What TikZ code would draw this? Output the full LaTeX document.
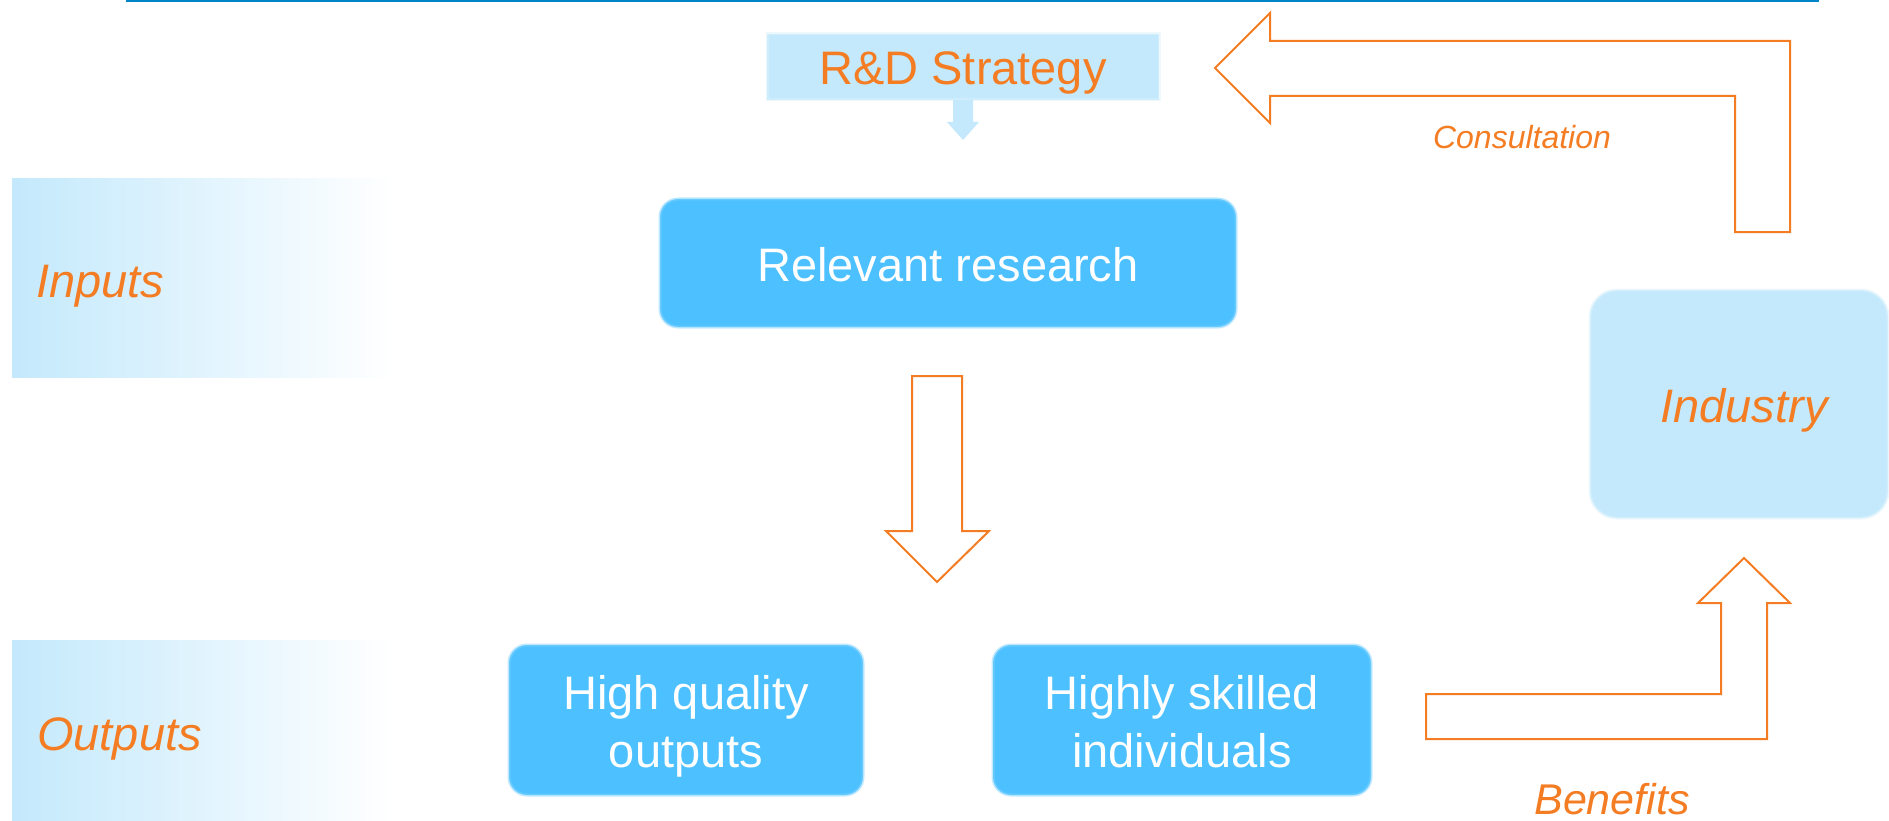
\documentclass[tikz,border=0pt]{standalone}
\usepackage{fontspec}
\setmainfont{Liberation Sans}
\definecolor{org}{RGB}{244,125,36}
\definecolor{bbox}{RGB}{77,193,255}
\definecolor{lblue}{RGB}{196,233,252}
\definecolor{topline}{RGB}{0,132,201}
\begin{document}
\begin{tikzpicture}[x=1pt,y=-1pt,
  bluebox/.style={rectangle, rounded corners=18pt, fill=bbox, draw=bbox!70, draw opacity=.5, line width=3pt, inner sep=0pt, text=white, align=center, font=\fontsize{47}{58}\selectfont},
  lightbox/.style={rectangle, fill=lblue, draw=lblue!60, draw opacity=.5, line width=3pt, inner sep=0pt},
  orgtext/.style={text=org, inner sep=0pt},
  blockarrow/.style={draw=org, fill=white, line width=2pt, line join=miter},
]
\useasboundingbox (0,0) rectangle (1889,821);
\fill[white] (0,0) rectangle (1889,821);

% top rule
\draw[topline, line width=2.5pt] (126,1.25) -- (1819,1.25);

% side panels
\shade[left color=lblue, right color=white] (12,179) rectangle (395,377);
\shade[left color=lblue, right color=white] (12,640) rectangle (395,821);
\node[orgtext, anchor=base west, font=\fontsize{47}{56}\selectfont\itshape] (inputs) at (36,297) {Inputs};
\node[orgtext, anchor=base west, font=\fontsize{47}{56}\selectfont\itshape] (outputs) at (37,750) {Outputs};

% R&D strategy
\node[lightbox, minimum width=392pt, minimum height=66pt] (rd) at (963,67) {};
\node[orgtext, anchor=base, font=\fontsize{47}{56}\selectfont] (rdt) at (963,85) {R\&D Strategy};
\fill[lblue] (953,100) -- (973,100) -- (973,122) -- (979,122) -- (963,140) -- (947,122) -- (953,122) -- cycle;

% blue boxes
\node[bluebox, minimum width=576pt, minimum height=128pt] (rr) at (948,263) {};
\node[text=white, inner sep=0pt, anchor=base, font=\fontsize{47}{56}\selectfont] (rrt) at (948,281) {Relevant research};

\node[bluebox, minimum width=354pt, minimum height=150pt] (hq) at (686,720) {};
\node[text=white, inner sep=0pt, anchor=base, font=\fontsize{47}{56}\selectfont] (hq1) at (686,709) {High quality};
\node[text=white, inner sep=0pt, anchor=base, font=\fontsize{47}{56}\selectfont] (hq2) at (686,767) {outputs};

\node[bluebox, minimum width=378pt, minimum height=150pt] (hs) at (1182,720) {};
\node[text=white, inner sep=0pt, anchor=base, font=\fontsize{47}{56}\selectfont] (hs1) at (1182,709) {Highly skilled};
\node[text=white, inner sep=0pt, anchor=base, font=\fontsize{47}{56}\selectfont] (hs2) at (1182,767) {individuals};

% industry
\node[lightbox, rounded corners=27pt, minimum width=298pt, minimum height=228pt] (ind) at (1739,404) {};
\node[orgtext, anchor=base, font=\fontsize{47}{56}\selectfont\itshape] (indt) at (1744,422) {Industry};

% block arrows
\draw[blockarrow] (912,376) -- (962,376) -- (962,531) -- (989,531) -- (937,582) -- (886,531) -- (912,531) -- cycle;
\draw[blockarrow] (1215,68) -- (1270,13) -- (1270,41) -- (1790,41) -- (1790,232) -- (1735,232) -- (1735,96) -- (1270,96) -- (1270,123) -- cycle;
\draw[blockarrow] (1426,694) -- (1721,694) -- (1721,603) -- (1698,603) -- (1744,558) -- (1790,603) -- (1767,603) -- (1767,739) -- (1426,739) -- cycle;

\node[orgtext, anchor=base, font=\fontsize{32}{38}\selectfont\itshape] (cons) at (1522,149) {Consultation};
\node[orgtext, anchor=base, font=\fontsize{43}{50}\selectfont\itshape] (ben) at (1612,814) {Benefits};
\end{tikzpicture}
\end{document}
